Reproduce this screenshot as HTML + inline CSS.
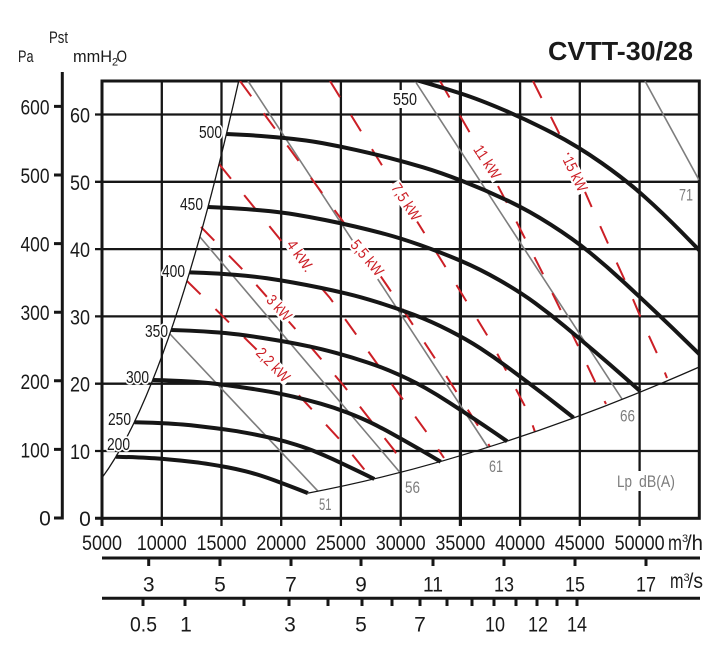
<!DOCTYPE html>
<html><head><meta charset="utf-8"><style>
html,body{margin:0;padding:0;background:#fff;}
svg{display:block;}
</style></head><body>
<svg width="723" height="650" viewBox="0 0 723 650" xmlns="http://www.w3.org/2000/svg" font-family="'Liberation Sans', Arial, sans-serif">
<rect width="723" height="650" fill="#fff"/>
<defs><clipPath id="pc"><rect x="102" y="81" width="597.3" height="437.3"/></clipPath></defs>

<!-- grid -->
<g stroke="#161616" stroke-width="2.3" fill="none">
<path d="M161.8,81V526M221.5,81V526M281.2,81V526M340.9,81V526M400.7,81V526M520.1,81V526M579.8,81V526M639.6,81V526"/>
<path d="M95,114.5H699.3M95,181.8H699.3M95,249.1H699.3M95,316.4H699.3M95,383.7H699.3M95,451H699.3"/>
</g>
<path d="M460.4,81V526" stroke="#161616" stroke-width="3.2"/>
<rect x="102" y="81" width="597.3" height="437.3" fill="none" stroke="#161616" stroke-width="3"/>
<path d="M102,518V526M95,518.3H102" stroke="#161616" stroke-width="3"/>

<!-- Pa axis -->
<path d="M62.3,72V519.5" stroke="#161616" stroke-width="3"/>
<path d="M54,106.4H62M54,175H62M54,243.6H62M54,312.2H62M54,380.8H62M54,449.4H62M54,518H62" stroke="#161616" stroke-width="3"/>

<!-- bottom axes -->
<path d="M102,558H700M102,598.3H700" stroke="#161616" stroke-width="3"/>
<path d="M148.7,558V566M220,558V566M291,558V566M361,558V566M433,558V566M504,558V566M575,558V566M646,558V566" stroke="#161616" stroke-width="3"/>
<path d="M143,598V606M185,598V606M244,598V606M289,598V606M328,598V606M362,598V606M392,598V606M420,598V606M447,598V606M472,598V606M494,598V606M516,598V606M537,598V606M557,598V606M577,598V606" stroke="#161616" stroke-width="3"/>

<g clip-path="url(#pc)" fill="none">
<!-- gray iso-noise lines -->
<g stroke="#7d7d7d" stroke-width="1.6">
<path d="M170,334L318,491.2"/>
<path d="M200,237L400,472.5"/>
<path d="M248,81L488,447.5"/>
<path d="M415,81L622,399"/>
<path d="M645,81L699,180"/>
</g>
<!-- red power lines -->
<g stroke="#cc1f26" stroke-width="2" stroke-dasharray="19 21">
<path d="M187,281L257,350L342,442L372,479"/>
<path d="M201,227L245,272L298,332L344,386L368,417L394,450L406,470"/>
<path d="M219,164L283,243L330,298L383,372L430,437L444,458"/>
<path d="M240,81L347,227L388,287L438,363L482,432L490,447"/>
<path d="M330,81L383,167L443,263L490,340L528,412L535,432"/>
<path d="M440,81L470,133L508,205L545,278L580,350L598,388L606,404"/>
<path d="M533,81L560,135L593,210L610,248L627,285L643,323L660,360L667,378"/>
</g>
<!-- surge and system lines -->
<path d="M102,477.8Q170.5,385.1 239,79.7" stroke="#161616" stroke-width="1.3"/>
<path d="M308,493.1Q492.4,458.1 699.3,367" stroke="#161616" stroke-width="1.3"/>
<!-- fan curves -->
<g stroke="#161616" stroke-width="4" stroke-linejoin="round">
<path vector-effect="non-scaling-stroke" transform="matrix(0.44444,0,0,0.19753,23.444,415.92)" d="M208,207 L224,207.75 Q240,208.5 260,210.25 Q280,212 295,214.5 Q310,217 325,220 Q340,223 355,226.5 Q370,230 385,234 Q400,238 420,245 Q440,252 460,260.5 Q480,269 500,280.5 Q520,292 535,303 Q550,314 565,326.5 Q580,339 595,351.75 Q610,364.5 625,377.75 L640,391"/>
<path vector-effect="non-scaling-stroke" transform="matrix(0.55556,0,0,0.30864,18.756,358.33)" d="M208,207 L224,207.75 Q240,208.5 260,210.25 Q280,212 295,214.5 Q310,217 325,220 Q340,223 355,226.5 Q370,230 385,234 Q400,238 420,245 Q440,252 460,260.5 Q480,269 500,280.5 Q520,292 535,303 Q550,314 565,326.5 Q580,339 595,351.75 Q610,364.5 625,377.75 L640,391"/>
<path vector-effect="non-scaling-stroke" transform="matrix(0.66667,0,0,0.44444,14.067,287.94)" d="M208,207 L224,207.75 Q240,208.5 260,210.25 Q280,212 295,214.5 Q310,217 325,220 Q340,223 355,226.5 Q370,230 385,234 Q400,238 420,245 Q440,252 460,260.5 Q480,269 500,280.5 Q520,292 535,303 Q550,314 565,326.5 Q580,339 595,351.75 Q610,364.5 625,377.75 L640,391"/>
<path vector-effect="non-scaling-stroke" transform="matrix(0.77778,0,0,0.60494,9.378,204.76)" d="M208,207 L224,207.75 Q240,208.5 260,210.25 Q280,212 295,214.5 Q310,217 325,220 Q340,223 355,226.5 Q370,230 385,234 Q400,238 420,245 Q440,252 460,260.5 Q480,269 500,280.5 Q520,292 535,303 Q550,314 565,326.5 Q580,339 595,351.75 Q610,364.5 625,377.75 L640,391"/>
<path vector-effect="non-scaling-stroke" transform="matrix(0.88889,0,0,0.79012,4.689,108.78)" d="M208,207 L224,207.75 Q240,208.5 260,210.25 Q280,212 295,214.5 Q310,217 325,220 Q340,223 355,226.5 Q370,230 385,234 Q400,238 420,245 Q440,252 460,260.5 Q480,269 500,280.5 Q520,292 535,303 Q550,314 565,326.5 Q580,339 595,351.75 Q610,364.5 625,377.75 L640,391"/>
<path d="M208,207 L224,207.75 Q240,208.5 260,210.25 Q280,212 295,214.5 Q310,217 325,220 Q340,223 355,226.5 Q370,230 385,234 Q400,238 420,245 Q440,252 460,260.5 Q480,269 500,280.5 Q520,292 535,303 Q550,314 565,326.5 Q580,339 595,351.75 Q610,364.5 625,377.75 L640,391"/>
<path vector-effect="non-scaling-stroke" transform="matrix(1.11111,0,0,1.23457,-4.689,-121.58)" d="M208,207 L224,207.75 Q240,208.5 260,210.25 Q280,212 295,214.5 Q310,217 325,220 Q340,223 355,226.5 Q370,230 385,234 Q400,238 420,245 Q440,252 460,260.5 Q480,269 500,280.5 Q520,292 535,303 Q550,314 565,326.5 Q580,339 595,351.75 Q610,364.5 625,377.75 L640,391"/>
<path vector-effect="non-scaling-stroke" transform="matrix(1.22222,0,0,1.49383,-9.378,-255.95)" d="M208,207 L224,207.75 Q240,208.5 260,210.25 Q280,212 295,214.5 Q310,217 325,220 Q340,223 355,226.5 Q370,230 385,234 Q400,238 420,245 Q440,252 460,260.5 Q480,269 500,280.5 Q520,292 535,303 Q550,314 565,326.5 Q580,339 595,351.75 Q610,364.5 625,377.75 L640,391"/>
</g>
</g>

<!-- white backgrounds -->
<rect x="614" y="471" width="63" height="20" fill="#fff"/>
<rect x="391" y="90" width="28" height="18" fill="#fff"/>
<g fill="#fff">
<rect transform="translate(273,365) rotate(46)" x="-22.5" y="-7" width="45" height="14"/>
<rect transform="translate(279,308) rotate(47)" x="-16.5" y="-7" width="33" height="14"/>
<rect transform="translate(300,256) rotate(55)" x="-19.5" y="-7" width="39" height="14"/>
<rect transform="translate(367,258) rotate(50)" x="-23" y="-7" width="46" height="14"/>
<rect transform="translate(406,202) rotate(57)" x="-22.5" y="-7" width="45" height="14"/>
<rect transform="translate(487,162) rotate(57)" x="-20.5" y="-7" width="41" height="14"/>
<rect transform="translate(575,174) rotate(64)" x="-20.5" y="-7" width="41" height="14"/>
</g>

<!-- title & axis titles -->
<text x="548" y="60" font-size="25.5" font-weight="bold" textLength="145" lengthAdjust="spacingAndGlyphs" fill="#1a1a1a">CVTT-30/28</text>
<g fill="#1a1a1a" font-size="16.5">
<text x="18" y="62" textLength="15.5" lengthAdjust="spacingAndGlyphs">Pa</text>
<text x="49" y="43" textLength="19" lengthAdjust="spacingAndGlyphs">Pst</text>
<text x="73" y="62" textLength="39" lengthAdjust="spacingAndGlyphs">mmH</text>
<text x="112" y="65.5" font-size="11">2</text>
<text x="116.5" y="62" textLength="10.5" lengthAdjust="spacingAndGlyphs">O</text>
</g>

<!-- y labels -->
<g fill="#1a1a1a" font-size="21">
<text x="20.5" y="114.5" textLength="29" lengthAdjust="spacingAndGlyphs">600</text>
<text x="20.5" y="183" textLength="29" lengthAdjust="spacingAndGlyphs">500</text>
<text x="20.5" y="251.6" textLength="29" lengthAdjust="spacingAndGlyphs">400</text>
<text x="20.5" y="320.2" textLength="29" lengthAdjust="spacingAndGlyphs">300</text>
<text x="20.5" y="388.8" textLength="29" lengthAdjust="spacingAndGlyphs">200</text>
<text x="20.5" y="457.4" textLength="29" lengthAdjust="spacingAndGlyphs">100</text>
<text x="45" y="525.5" text-anchor="middle">0</text>
<text x="70" y="122.5" textLength="20" lengthAdjust="spacingAndGlyphs">60</text>
<text x="70" y="189.8" textLength="20" lengthAdjust="spacingAndGlyphs">50</text>
<text x="70" y="257.1" textLength="20" lengthAdjust="spacingAndGlyphs">40</text>
<text x="70" y="324.4" textLength="20" lengthAdjust="spacingAndGlyphs">30</text>
<text x="70" y="391.7" textLength="20" lengthAdjust="spacingAndGlyphs">20</text>
<text x="70" y="459" textLength="20" lengthAdjust="spacingAndGlyphs">10</text>
<text x="85" y="526" text-anchor="middle">0</text>

<!-- m3/h labels -->
<text x="82" y="550" textLength="40" lengthAdjust="spacingAndGlyphs">5000</text>
<text x="136.8" y="550" textLength="50" lengthAdjust="spacingAndGlyphs">10000</text>
<text x="196.5" y="550" textLength="50" lengthAdjust="spacingAndGlyphs">15000</text>
<text x="256.2" y="550" textLength="50" lengthAdjust="spacingAndGlyphs">20000</text>
<text x="315.9" y="550" textLength="50" lengthAdjust="spacingAndGlyphs">25000</text>
<text x="375.7" y="550" textLength="50" lengthAdjust="spacingAndGlyphs">30000</text>
<text x="435.4" y="550" textLength="50" lengthAdjust="spacingAndGlyphs">35000</text>
<text x="495.1" y="550" textLength="50" lengthAdjust="spacingAndGlyphs">40000</text>
<text x="554.8" y="550" textLength="50" lengthAdjust="spacingAndGlyphs">45000</text>
<text x="614.6" y="550" textLength="50" lengthAdjust="spacingAndGlyphs">50000</text>
<text x="668" y="550" textLength="14" lengthAdjust="spacingAndGlyphs">m</text>
<text x="682" y="542" font-size="11">3</text>
<text x="686" y="550" textLength="17" lengthAdjust="spacingAndGlyphs">/h</text>

<!-- m3/s labels -->
<text x="148.7" y="591.7" text-anchor="middle">3</text>
<text x="220" y="591.7" text-anchor="middle">5</text>
<text x="291" y="591.7" text-anchor="middle">7</text>
<text x="361" y="591.7" text-anchor="middle">9</text>
<text x="423" y="591.7" textLength="20" lengthAdjust="spacingAndGlyphs">11</text>
<text x="494" y="591.7" textLength="20" lengthAdjust="spacingAndGlyphs">13</text>
<text x="565" y="591.7" textLength="20" lengthAdjust="spacingAndGlyphs">15</text>
<text x="636" y="591.7" textLength="20" lengthAdjust="spacingAndGlyphs">17</text>
<text x="670" y="588" textLength="13.5" lengthAdjust="spacingAndGlyphs">m</text>
<text x="683.5" y="581" font-size="11">3</text>
<text x="688" y="588" textLength="15" lengthAdjust="spacingAndGlyphs">/s</text>

<!-- third row -->
<text x="130" y="631.7" textLength="27" lengthAdjust="spacingAndGlyphs">0.5</text>
<text x="186" y="631.7" text-anchor="middle">1</text>
<text x="290" y="631.7" text-anchor="middle">3</text>
<text x="361" y="631.7" text-anchor="middle">5</text>
<text x="420" y="631.7" text-anchor="middle">7</text>
<text x="485" y="631.7" textLength="20" lengthAdjust="spacingAndGlyphs">10</text>
<text x="528" y="631.7" textLength="20" lengthAdjust="spacingAndGlyphs">12</text>
<text x="567" y="631.7" textLength="20" lengthAdjust="spacingAndGlyphs">14</text>
</g>

<!-- rpm labels -->
<g fill="#1a1a1a" font-size="17.5" stroke="#fff" stroke-width="3.5" stroke-linejoin="round" style="paint-order:stroke">
<text x="107" y="450" textLength="23" lengthAdjust="spacingAndGlyphs">200</text>
<text x="108" y="425" textLength="23" lengthAdjust="spacingAndGlyphs">250</text>
<text x="126" y="383" textLength="23" lengthAdjust="spacingAndGlyphs">300</text>
<text x="145" y="337" textLength="23" lengthAdjust="spacingAndGlyphs">350</text>
<text x="162" y="277" textLength="23" lengthAdjust="spacingAndGlyphs">400</text>
<text x="180" y="210" textLength="23" lengthAdjust="spacingAndGlyphs">450</text>
<text x="199" y="138" textLength="23" lengthAdjust="spacingAndGlyphs">500</text>
<text x="393" y="105" textLength="24" lengthAdjust="spacingAndGlyphs">550</text>
</g>

<!-- gray noise labels -->
<g fill="#7d7d7d" font-size="16.5" stroke="#fff" stroke-width="3" stroke-linejoin="round" style="paint-order:stroke">
<text x="319" y="510" textLength="12.5" lengthAdjust="spacingAndGlyphs">51</text>
<text x="405" y="493" textLength="15" lengthAdjust="spacingAndGlyphs">56</text>
<text x="489" y="472" textLength="14" lengthAdjust="spacingAndGlyphs">61</text>
<text x="620" y="421.7" textLength="15" lengthAdjust="spacingAndGlyphs">66</text>
<text x="679" y="200.7" textLength="14" lengthAdjust="spacingAndGlyphs">71</text>
<text x="617" y="487" textLength="15" lengthAdjust="spacingAndGlyphs">Lp</text>
<text x="639" y="487" textLength="36" lengthAdjust="spacingAndGlyphs">dB(A)</text>
</g>

<!-- kW labels -->
<g fill="#cc1f26" font-size="15.5">
<text transform="translate(273,365) rotate(46)" x="-20.5" y="5" textLength="41" lengthAdjust="spacingAndGlyphs">2,2 kW</text>
<text transform="translate(279,308) rotate(47)" x="-14.5" y="5" textLength="29" lengthAdjust="spacingAndGlyphs">3 kW</text>
<text transform="translate(300,256) rotate(55)" x="-17.5" y="5" textLength="35" lengthAdjust="spacingAndGlyphs">4 kW.</text>
<text transform="translate(367,258) rotate(50)" x="-21" y="5" textLength="42" lengthAdjust="spacingAndGlyphs">5,5 kW</text>
<text transform="translate(406,202) rotate(57)" x="-20.5" y="5" textLength="41" lengthAdjust="spacingAndGlyphs">7,5 kW</text>
<text transform="translate(487,162) rotate(57)" x="-18.5" y="5" textLength="37" lengthAdjust="spacingAndGlyphs">11 kW</text>
<text transform="translate(575,174) rotate(64)" x="-18.5" y="5" textLength="37" lengthAdjust="spacingAndGlyphs">15 kW</text>
</g>
</svg>
</body></html>
